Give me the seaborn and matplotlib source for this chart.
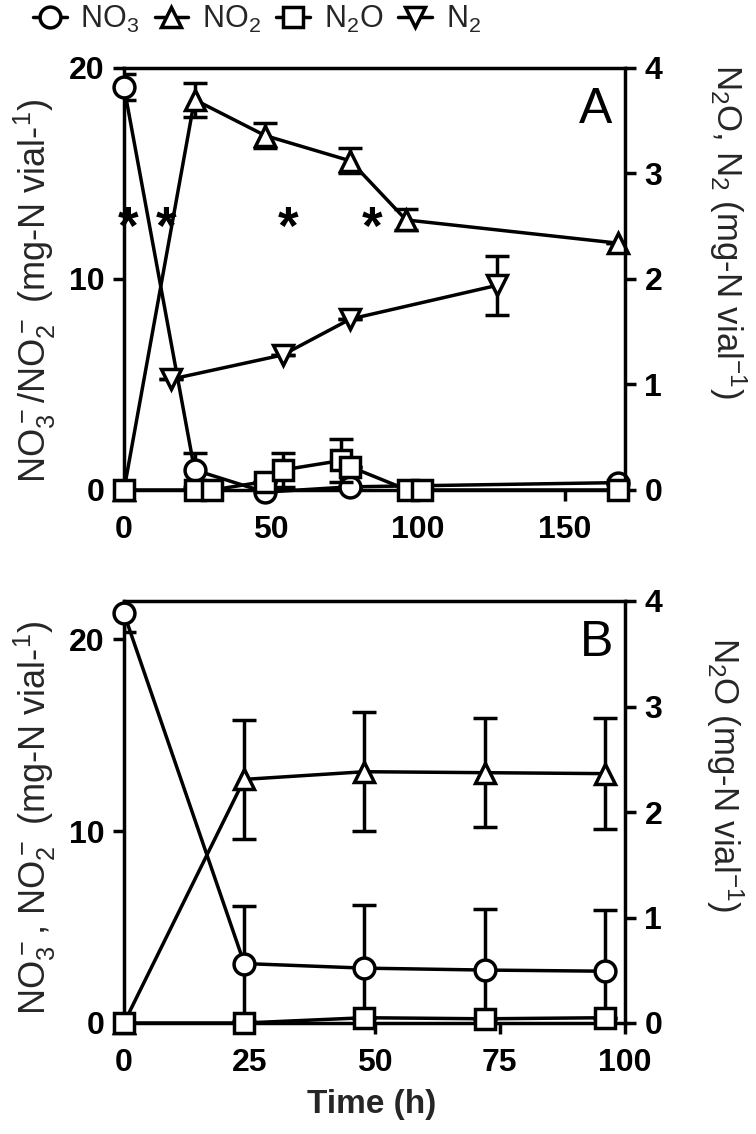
import matplotlib
matplotlib.use('Agg')
import matplotlib.pyplot as plt
import seaborn as sns

# ---------------- data: panel A ----------------
t_no3_a = [0, 24, 48, 77, 168]
no3_a = [19.1, 0.95, -0.1, 0.15, 0.35]
no3_a_err = [0.6, 0.8, 0.0, 0.0, 0.0]

t_no2_a = [0, 24, 48, 77, 96, 168]
no2_a = [0.0, 18.5, 16.8, 15.6, 12.8, 11.7]
no2_a_err = [0.0, 0.8, 0.6, 0.6, 0.5, 0.0]

t_n2o_a = [0, 24, 30, 48, 54, 74, 77, 96.5, 101.5, 168]
n2o_a = [0.0, 0.0, 0.0, 0.08, 0.19, 0.28, 0.22, 0.0, 0.0, 0.0]
n2o_a_err = [0, 0, 0, 0, 0.16, 0.2, 0, 0, 0, 0]

t_n2_a = [16, 54, 77, 127]
n2_a = [1.05, 1.28, 1.62, 1.94]
n2_a_err = [0, 0, 0, 0.28]

star_t = [1.4, 14.3, 56, 84.5]
star_y = [12.9, 12.9, 12.9, 12.9]

# ---------------- data: panel B ----------------
t_b = [0, 24, 48, 72, 96]
no3_b = [21.35, 3.1, 2.86, 2.76, 2.7]
no3_b_err = [0.95, 3.0, 3.3, 3.2, 3.2]
no2_b = [0.0, 12.7, 13.1, 13.05, 13.0]
no2_b_err = [0.0, 3.1, 3.1, 2.85, 2.9]
n2o_b = [0.0, 0.0, 0.05, 0.04, 0.05]
n2o_b_err = [0, 0, 0, 0, 0]

xticks_a = [0, 50, 100, 150]
xticks_b = [0, 25, 50, 75, 100]
yticks_left_a = [0, 10, 20]
yticks_left_b = [0, 10, 20]
yticks_right = [0, 1, 2, 3, 4]

legend_labels = ['NO$_3$', 'NO$_2$', 'N$_2$O', 'N$_2$']

sns.set_theme(style='ticks')
plt.rcParams['font.family'] = ['Liberation Sans', 'DejaVu Sans']
plt.rcParams['mathtext.default'] = 'regular'

LW = 2.5
MS = 15
fig = plt.figure(figsize=(7.56, 11.34), dpi=100)


def draw(ax, t, y, err, marker, label=None):
    sns.lineplot(x=t, y=y, ax=ax, marker=marker, color='black', lw=LW,
                 ms=MS, mfc='white', mec='black', mew=LW, label=label,
                 estimator=None, sort=False, errorbar=None, clip_on=False,
                 zorder=3)
    ax.errorbar(t, y, yerr=err, fmt='none', ecolor='black', elinewidth=LW,
                capsize=8.5, capthick=LW, zorder=2)


def style(ax, ax2, xlim, ylim, ylim2, xt, yt, yt2):
    ax.set_xlim(*xlim)
    ax.set_ylim(*ylim)
    ax2.set_ylim(*ylim2)
    ax.set_xticks(xt)
    ax.set_yticks(yt)
    ax2.set_yticks(yt2)
    for a in (ax, ax2):
        a.tick_params(direction='out', length=8, width=LW, labelsize=23,
                      pad=6, colors='black')
        a.tick_params(axis='x', pad=10)
        for s in a.spines.values():
            s.set_linewidth(LW)
            s.set_color('black')
        for lab in a.get_xticklabels() + a.get_yticklabels():
            lab.set_fontweight('bold')
        a.set_xlabel('')
        a.set_ylabel('')
        if a.get_legend() is not None:
            a.get_legend().remove()
    ax.spines['right'].set_visible(False)
    for k in ('left', 'top', 'bottom'):
        ax2.spines[k].set_visible(False)


# ---------------- panel A ----------------
axA = fig.add_axes([124 / 756, 1 - 490 / 1134, 501 / 756, 422 / 1134])
axA2 = axA.twinx()
draw(axA, t_no3_a, no3_a, no3_a_err, 'o', legend_labels[0])
draw(axA, t_no2_a, no2_a, no2_a_err, '^', legend_labels[1])
draw(axA2, t_n2o_a, n2o_a, n2o_a_err, 's', legend_labels[2])
draw(axA2, t_n2_a, n2_a, n2_a_err, 'v', legend_labels[3])
for tx, ty in zip(star_t, star_y):
    axA.annotate('*', (tx, ty), xytext=(0, -9), textcoords='offset points',
                 ha='center', va='center', fontsize=38, fontweight='bold',
                 color='black')
axA.text(160.6, 18.0, 'A', ha='center', va='center', fontsize=36,
         color='black')
h1, l1 = axA.get_legend_handles_labels()
h2, l2 = axA2.get_legend_handles_labels()
style(axA, axA2, (0, 170.5), (0, 20), (0, 4), xticks_a, yticks_left_a,
      yticks_right)

# ---------------- panel B ----------------
axB = fig.add_axes([124 / 756, 1 - 1023 / 1134, 501 / 756, 422 / 1134])
axB2 = axB.twinx()
draw(axB, t_b, no3_b, no3_b_err, 'o')
draw(axB, t_b, no2_b, no2_b_err, '^')
draw(axB2, t_b, n2o_b, n2o_b_err, 's')
axB.text(94.4, 19.8, 'B', ha='center', va='center', fontsize=36,
         color='black')
style(axB, axB2, (0, 100), (0, 22), (0, 4), xticks_b, yticks_left_b,
      yticks_right)

# ---------------- labels ----------------
fig.text(35 / 756, 1 - 291 / 1134,
         'NO$_3^-$/NO$_2^-$ (mg-N vial-$^1$)', rotation=90,
         ha='center', va='center', fontsize=26)
fig.text(728 / 756, 1 - 231 / 1134,
         'N$_2$O, N$_2$ (mg-N vial$^{-1}$)', rotation=270,
         ha='center', va='center', fontsize=25)
fig.text(35 / 756, 1 - 818 / 1134,
         'NO$_3^-$, NO$_2^-$ (mg-N vial-$^1$)', rotation=90,
         ha='center', va='center', fontsize=26)
fig.text(725 / 756, 1 - 775 / 1134,
         'N$_2$O (mg-N vial$^{-1}$)', rotation=270,
         ha='center', va='center', fontsize=25)
fig.text(372 / 756, 1 - 1105 / 1134, 'Time (h)', ha='center', va='center',
         fontsize=24, fontweight='bold')

fig.legend(h1 + h2, l1 + l2, loc='upper left',
           bbox_to_anchor=(33 / 756, 1 - 4 / 1134), ncol=4, frameon=False,
           fontsize=22, handlelength=1.1, handletextpad=0.45,
           columnspacing=0.5, borderaxespad=0, borderpad=0)

fig.savefig('out.png', dpi=100)
